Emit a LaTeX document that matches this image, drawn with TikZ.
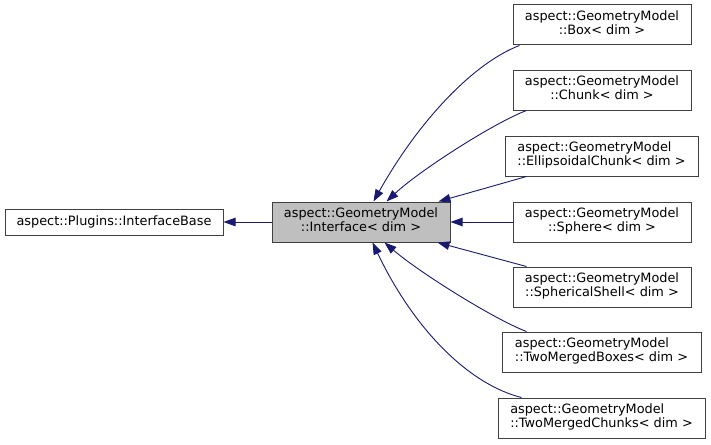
\documentclass[tikz,border=0pt]{standalone}
\usepackage{fontspec}
\setmainfont{DejaVu Sans}
\usepackage{tikz}
\usetikzlibrary{arrows.meta}
\definecolor{ink}{HTML}{191970}
\definecolor{rim}{HTML}{404040}
\definecolor{hilite}{HTML}{BFBFBF}
\newcommand{\gmodel}[1]{\begin{tabular}{@{}l@{}}aspect::GeometryModel\\\multicolumn{1}{@{}c@{}}{::#1< dim >}\end{tabular}}

\begin{document}
\begin{tikzpicture}[x=1pt, y=1pt, font=\fontsize{12.85}{14}\selectfont, >={Triangle[length=12pt, width=8.5pt]},
  k/.style={draw=rim, line width=1pt, fill=white, inner sep=0pt, minimum height=40pt, minimum width=178pt},
  inh/.style={->, draw=ink, line width=0.9pt}]
\useasboundingbox[fill=white] (0,0) rectangle (711,-444);
\node[k, minimum width=218pt, minimum height=26pt] (base) at (114,-222) {aspect::Plugins::InterfaceBase};
\node[k, fill=hilite] (iface) at (361,-222) {\gmodel{Interface}};
\node[k] (box) at (602,-25) {\gmodel{Box}};
\node[k] (chunk) at (602,-90) {\gmodel{Chunk}};
\node[k, minimum width=193pt] (ell) at (601.5,-156) {\gmodel{EllipsoidalChunk}};
\node[k] (sphere) at (602,-222) {\gmodel{Sphere}};
\node[k] (shell) at (602,-287) {\gmodel{SphericalShell}};
\node[k, minimum width=199pt] (tmb) at (601.5,-352) {\gmodel{TwoMergedBoxes}};
\node[k, minimum width=207pt] (tmc) at (601.5,-418) {\gmodel{TwoMergedChunks}};
\draw[inh] (iface) -- (base);
\draw[inh] ([xshift=7pt]box.south west) .. controls +(-45,-17) and +(46,82) .. ([xshift=102pt]iface.north west);
\draw[inh] ([xshift=14pt]chunk.south west) .. controls +(-32,-12) and +(33,31) .. ([xshift=115pt]iface.north west);
\draw[inh] ([xshift=22pt]ell.south west) -- ([xshift=-12pt]iface.north east);
\draw[inh] (sphere) -- (iface);
\draw[inh] ([xshift=14pt]shell.north west) -- ([xshift=-13pt]iface.south east);
\draw[inh] ([xshift=25pt]tmb.north west) .. controls +(-32,12) and +(35,-30) .. ([xshift=113pt]iface.south west);
\draw[inh] ([xshift=24pt]tmc.north west) .. controls +(-52,13) and +(42,-88) .. ([xshift=101pt]iface.south west);
\end{tikzpicture}
\end{document}
